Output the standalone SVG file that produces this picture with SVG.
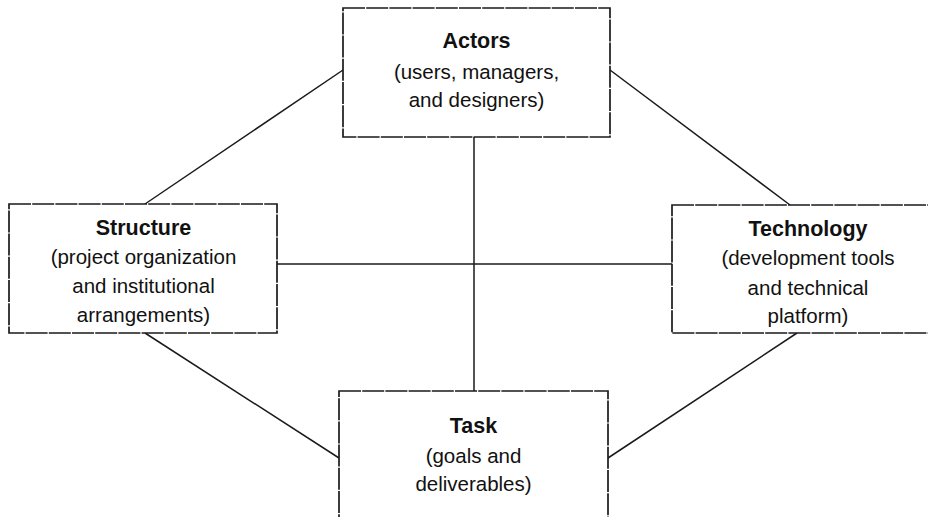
<svg xmlns="http://www.w3.org/2000/svg" width="928" height="517" viewBox="0 0 928 517">
<style>
.box{fill:#fff;stroke:#1a1a1a;stroke-width:1.7;stroke-dasharray:22 1.2}
.conn line{stroke:#1a1a1a;stroke-width:1.5}
text{font-family:"Liberation Sans",Arial,sans-serif;fill:#111;text-anchor:middle}
.t{font-weight:bold;font-size:21.5px}
.s{font-size:20.5px}
</style>
<rect width="928" height="517" fill="#fff"/>
<g id="connectors" class="conn">
<line x1="343" y1="70" x2="145" y2="204"/>
<line x1="610" y1="70" x2="790" y2="205"/>
<line x1="145" y1="333" x2="339" y2="458"/>
<line x1="797" y1="333" x2="608" y2="458"/>
<line x1="474" y1="137" x2="474" y2="391"/>
<line x1="277" y1="264" x2="672" y2="264"/>
</g>
<g id="actors">
<rect class="box" x="343" y="8" width="267" height="129"/>
<text class="t" x="476.5" y="48">Actors</text>
<text class="s" x="476.5" y="79">(users, managers,</text>
<text class="s" x="476.5" y="107">and designers)</text>
</g>
<g id="structure">
<rect class="box" x="9" y="204" width="268" height="129"/>
<text class="t" x="143.5" y="235">Structure</text>
<text class="s" x="143.5" y="264">(project organization</text>
<text class="s" x="143.5" y="293">and institutional</text>
<text class="s" x="143.5" y="322">arrangements)</text>
</g>
<g id="technology">
<rect class="box" x="672" y="205" width="272" height="128"/>
<text class="t" x="808" y="236">Technology</text>
<text class="s" x="808" y="265">(development tools</text>
<text class="s" x="808" y="295">and technical</text>
<text class="s" x="808" y="323">platform)</text>
</g>
<g id="task">
<rect class="box" x="339" y="391" width="269" height="140"/>
<text class="t" x="473.5" y="433">Task</text>
<text class="s" x="473.5" y="463">(goals and</text>
<text class="s" x="473.5" y="491">deliverables)</text>
</g>
</svg>
